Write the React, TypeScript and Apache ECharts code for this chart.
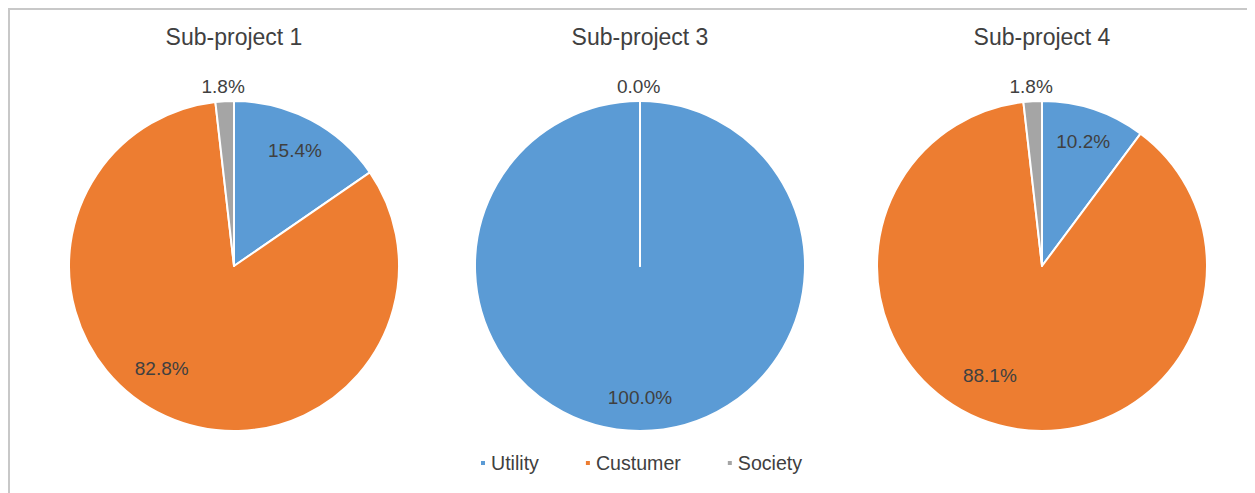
import React, { useEffect, useRef } from "react";
import * as echarts from "echarts";

const CATEGORIES = ["Utility", "Custumer", "Society"];
const PROJECT_TITLES = ["Sub-project 1", "Sub-project 3", "Sub-project 4"];
const SUB_PROJECT_1 = [15.4, 82.8, 1.8];
const SUB_PROJECT_3 = [100.0, 0.0, 0.0];
const SUB_PROJECT_4 = [10.2, 88.1, 1.8];
const PROJECT_VALUES = [SUB_PROJECT_1, SUB_PROJECT_3, SUB_PROJECT_4];
const COLORS = ["#5B9BD5", "#ED7D31", "#A5A5A5"];

const FONT = "'Liberation Sans', Arial, sans-serif";
const TEXT_COLOR = "#404040";
const CENTERS_X = [224, 630, 1032];
const CENTER_Y = 256;
const RADIUS = 165;

export default function App() {
  const ref = useRef<HTMLDivElement>(null);

  useEffect(() => {
    if (!ref.current) return;
    const chart = echarts.init(ref.current, undefined, { renderer: "svg" });

    const pieSeries: any[] = PROJECT_VALUES.map((vals, p) => ({
      type: "pie",
      name: PROJECT_TITLES[p],
      center: [CENTERS_X[p], CENTER_Y],
      radius: [0, RADIUS],
      startAngle: 90,
      clockwise: true,
      avoidLabelOverlap: false,
      silent: true,
      label: { show: false },
      labelLine: { show: false },
      itemStyle: { borderColor: "#ffffff", borderWidth: 2 },
      emphasis: { disabled: true },
      data: vals.map((v, i) => ({ name: CATEGORIES[i], value: v })),
    }));

    const isShiftedLabel = (i: number, v: number) => i === 1 && v >= 5;

    const labelSeries: any[] = PROJECT_VALUES.map((vals, p) => ({
      type: "pie",
      name: PROJECT_TITLES[p] + " labels",
      center: [CENTERS_X[p], CENTER_Y],
      radius: [91, RADIUS],
      startAngle: 90,
      clockwise: true,
      avoidLabelOverlap: false,
      silent: true,
      itemStyle: { color: "rgba(0,0,0,0)", borderWidth: 0 },
      emphasis: { disabled: true },
      label: {
        show: true,
        position: "inside",
        color: TEXT_COLOR,
        fontSize: 19,
        fontFamily: FONT,
        formatter: (prm: any) => {
          const txt = `${Number(prm.value).toFixed(1)}%`;
          return isShiftedLabel(prm.dataIndex, Number(prm.value)) ? `${txt}\n ` : txt;
        },
      },
      labelLine: { show: false },
      data: vals.map((v, i) => {
        const outside = v < 5;
        let label: any;
        if (outside) {
          label = { position: "outside", distanceToLabelLine: v === 0 ? -23 : -21 };
        } else if (isShiftedLabel(i, v)) {
          // Excel "best fit" pulls the large slice's label toward the lower-left
          label = { position: "inside", padding: [0, 36, 0, 0], lineHeight: 34 };
        } else {
          label = { position: "inside" };
        }
        return {
          name: CATEGORIES[i],
          value: v,
          label,
          labelLine: { show: false, length: 15, length2: 0 },
        };
      }),
    }));

    chart.setOption({
      animation: false,
      backgroundColor: "#ffffff",
      color: COLORS,
      textStyle: { fontFamily: FONT },
      graphic: PROJECT_TITLES.map((t, p) => ({
        type: "text",
        x: CENTERS_X[p],
        y: 27,
        style: {
          text: t,
          align: "center",
          verticalAlign: "middle",
          fontSize: 23,
          fontFamily: FONT,
          fill: TEXT_COLOR,
        },
      })),
      legend: {
        data: CATEGORIES,
        left: 469,
        top: 443,
        padding: 0,
        itemWidth: 6,
        itemHeight: 6,
        itemGap: 45,
        icon: "rect",
        selectedMode: false,
        textStyle: { fontSize: 19.6, color: TEXT_COLOR, fontFamily: FONT },
      },
      series: [...pieSeries, ...labelSeries],
    });

    return () => chart.dispose();
  }, []);

  return (
    <div
      style={{
        width: 1247,
        height: 485,
        boxSizing: "border-box",
        borderTop: "2px solid #c8c8c8",
        borderLeft: "2px solid #c8c8c8",
        overflow: "hidden",
        background: "#ffffff",
      }}
    >
      <div ref={ref} style={{ width: 1245, height: 483 }} />
    </div>
  );
}
